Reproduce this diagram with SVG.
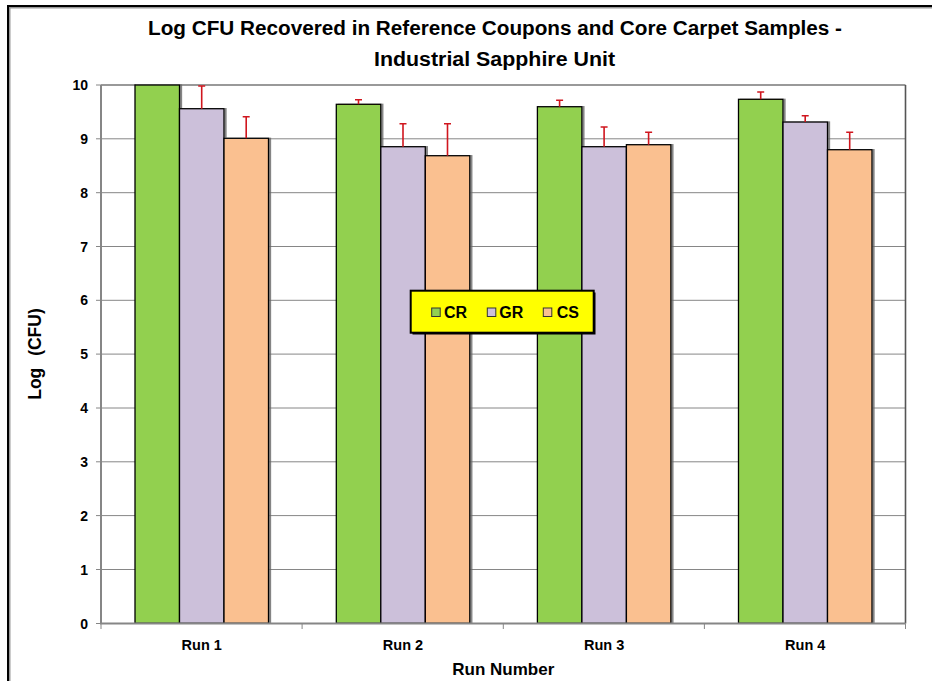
<svg xmlns="http://www.w3.org/2000/svg" width="932" height="681" viewBox="0 0 932 681">
<style>
.t{font-family:"Liberation Sans",Arial,sans-serif;font-weight:bold;fill:#000}
.grid{stroke:#868686;stroke-width:1}
.ax{stroke:#868686;stroke-width:2;fill:none}
.bar{stroke:#000;stroke-width:1.3}
.cr{fill:#92D050}.gr{fill:#CCC0DA}.cs{fill:#FAC090}
.err{stroke:#D0161E;stroke-width:1.6;fill:none}
.yl{font-size:14px;text-anchor:end}
.xl{font-size:14.5px;text-anchor:middle}
</style>
<defs>
<filter id="sh" x="-10%" y="-10%" width="130%" height="130%">
<feDropShadow dx="2" dy="0" stdDeviation="0.6" flood-color="#666" flood-opacity="0.8"/>
</filter>
</defs>
<rect x="0" y="0" width="932" height="681" fill="#fff"/>
<!-- outer frame -->
<path d="M9,690 V7 H940" fill="none" stroke="#999" stroke-width="3"/>
<path d="M8,690 V6 H940" fill="none" stroke="#000" stroke-width="2"/>

<!-- title -->
<g id="title">
<text class="t" x="495" y="34.5" font-size="19.5" text-anchor="middle" textLength="694" lengthAdjust="spacingAndGlyphs">Log CFU Recovered in Reference Coupons and Core Carpet Samples -</text>
<text class="t" x="494.5" y="65.5" font-size="19.5" text-anchor="middle" textLength="241" lengthAdjust="spacingAndGlyphs">Industrial Sapphire Unit</text>
</g>

<!-- gridlines -->
<g id="grid">
<line class="grid" x1="101" y1="569.5" x2="905.5" y2="569.5"/>
<line class="grid" x1="101" y1="515.6" x2="905.5" y2="515.6"/>
<line class="grid" x1="101" y1="461.8" x2="905.5" y2="461.8"/>
<line class="grid" x1="101" y1="408" x2="905.5" y2="408"/>
<line class="grid" x1="101" y1="354.1" x2="905.5" y2="354.1"/>
<line class="grid" x1="101" y1="300.3" x2="905.5" y2="300.3"/>
<line class="grid" x1="101" y1="246.5" x2="905.5" y2="246.5"/>
<line class="grid" x1="101" y1="192.7" x2="905.5" y2="192.7"/>
<line class="grid" x1="101" y1="138.8" x2="905.5" y2="138.8"/>
<line x1="101" y1="85" x2="905.5" y2="85" stroke="#777" stroke-width="1.6"/>
<line x1="905.5" y1="85" x2="905.5" y2="623.5" stroke="#555" stroke-width="1.6"/>
</g>

<!-- bars -->
<g id="bars" filter="url(#sh)">
<g id="run1">
<rect class="bar cr" x="135" y="85" width="44.5" height="538.3"/>
<rect class="bar gr" x="179.5" y="108.7" width="44.5" height="514.6"/>
<rect class="bar cs" x="224" y="138.3" width="44.5" height="485"/>
</g>
<g id="run2">
<rect class="bar cr" x="336.3" y="104.3" width="44.5" height="519"/>
<rect class="bar gr" x="380.8" y="146.7" width="44.5" height="476.6"/>
<rect class="bar cs" x="425.3" y="155.7" width="44.5" height="467.6"/>
</g>
<g id="run3">
<rect class="bar cr" x="537.4" y="106.7" width="44.5" height="516.6"/>
<rect class="bar gr" x="581.9" y="146.7" width="44.5" height="476.6"/>
<rect class="bar cs" x="626.4" y="144.7" width="44.5" height="478.6"/>
</g>
<g id="run4">
<rect class="bar cr" x="738.5" y="99.3" width="44.5" height="524"/>
<rect class="bar gr" x="783" y="122" width="44.5" height="501.3"/>
<rect class="bar cs" x="827.5" y="149.7" width="44.5" height="473.6"/>
</g>
</g>

<!-- error bars -->
<g id="errors">
<path class="err" d="M201.7,108.7V86M198.2,86H205.2"/>
<path class="err" d="M246.2,138.3V116.7M242.7,116.7H249.7"/>
<path class="err" d="M358.5,104.3V99.7M355,99.7H362"/>
<path class="err" d="M403,146.7V123.7M399.5,123.7H406.5"/>
<path class="err" d="M447.5,155.7V123.7M444,123.7H451"/>
<path class="err" d="M559.6,106.7V100.3M556.1,100.3H563.1"/>
<path class="err" d="M604.1,146.7V127M600.6,127H607.6"/>
<path class="err" d="M648.6,144.7V132.3M645.1,132.3H652.1"/>
<path class="err" d="M760.7,99.3V92M757.2,92H764.2"/>
<path class="err" d="M805.2,122V115.7M801.7,115.7H808.7"/>
<path class="err" d="M849.7,149.7V132.3M846.2,132.3H853.2"/>
</g>

<!-- axes -->
<g id="axes">
<path class="ax" d="M101,85V623.5H905.5"/>
<path d="M96,85H101M96,138.8H101M96,192.7H101M96,246.5H101M96,300.3H101M96,354.1H101M96,408H101M96,461.8H101M96,515.6H101M96,569.5H101M96,623.5H101" stroke="#868686" stroke-width="1"/>
<path d="M101,623.5V629M302.1,623.5V629M503.3,623.5V629M704.4,623.5V629M905.5,623.5V629" stroke="#868686" stroke-width="1"/>
</g>

<!-- y labels -->
<g id="ylabels">
<text class="t yl" x="88" y="628.5">0</text>
<text class="t yl" x="88" y="574.5">1</text>
<text class="t yl" x="88" y="520.6">2</text>
<text class="t yl" x="88" y="466.8">3</text>
<text class="t yl" x="88" y="413">4</text>
<text class="t yl" x="88" y="359.1">5</text>
<text class="t yl" x="88" y="305.3">6</text>
<text class="t yl" x="88" y="251.5">7</text>
<text class="t yl" x="88" y="197.7">8</text>
<text class="t yl" x="88" y="143.8">9</text>
<text class="t yl" x="88" y="90">10</text>
</g>

<!-- x labels -->
<g id="xlabels">
<text class="t xl" x="201.7" y="650">Run 1</text>
<text class="t xl" x="403" y="650">Run 2</text>
<text class="t xl" x="604.1" y="650">Run 3</text>
<text class="t xl" x="805.2" y="650">Run 4</text>
<text class="t" x="503.3" y="674.5" font-size="17" text-anchor="middle">Run Number</text>
</g>

<text class="t" font-size="17.5" text-anchor="middle" word-spacing="7" transform="translate(41,354) rotate(-90)">Log (CFU)</text>

<!-- legend -->
<g id="legend">
<rect x="412.5" y="292.5" width="183" height="42" fill="#000"/>
<rect x="410.7" y="290.7" width="183" height="42" fill="#FFFF00" stroke="#000" stroke-width="2"/>
<rect class="cr" x="431.7" y="308" width="8.5" height="8.5" stroke="#333" stroke-width="1"/>
<text class="t" x="444" y="318" font-size="16">CR</text>
<rect class="gr" x="487.3" y="308" width="8.5" height="8.5" stroke="#333" stroke-width="1"/>
<text class="t" x="499.3" y="318" font-size="16">GR</text>
<rect class="cs" x="543.3" y="308" width="8.5" height="8.5" stroke="#333" stroke-width="1"/>
<text class="t" x="556.7" y="318" font-size="16">CS</text>
</g>
</svg>
